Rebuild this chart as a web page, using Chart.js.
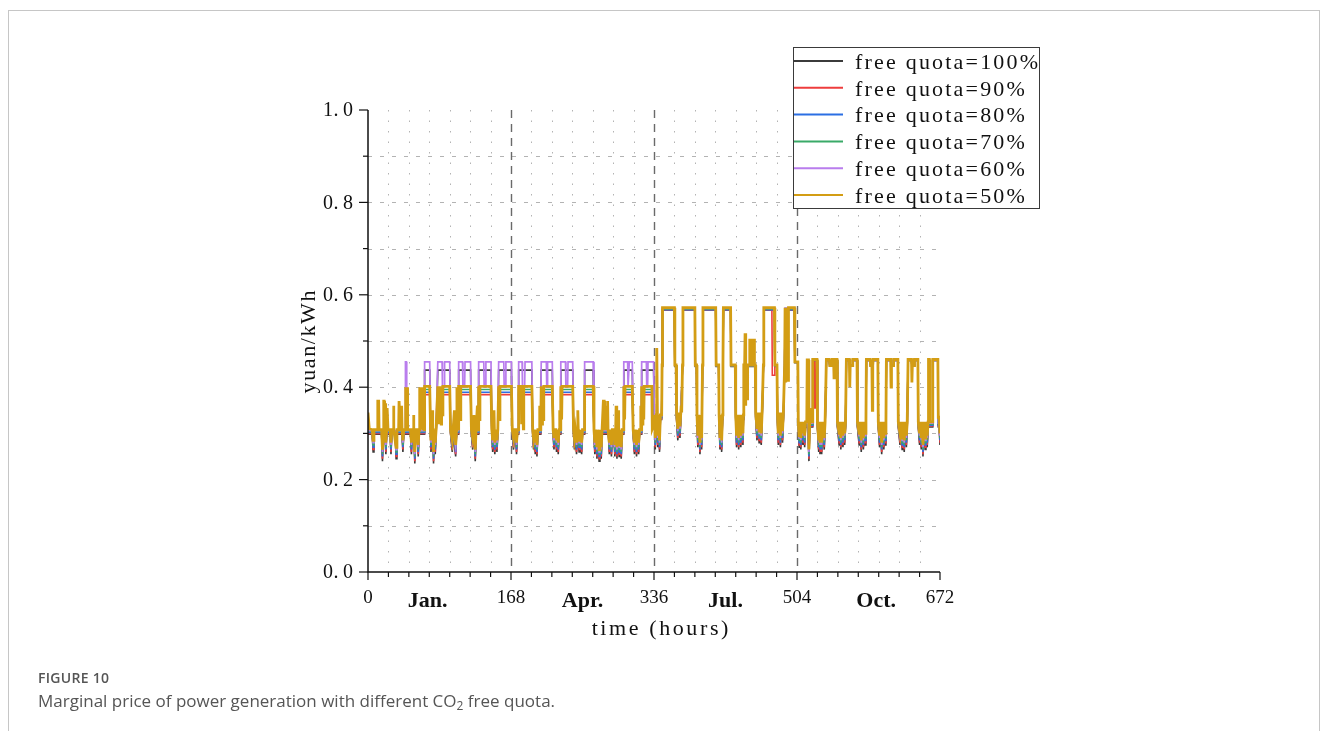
<!DOCTYPE html>
<html>
<head>
<meta charset="utf-8">
<title>Marginal price of power generation</title>
<script src="https://cdn.jsdelivr.net/npm/chart.js@4.4.0/dist/chart.umd.min.js"></script>
<style>
  html, body { margin: 0; padding: 0; background: #fff; }
  body { width: 1328px; height: 731px; position: relative; overflow: hidden; }
  #frame { position: absolute; left: 8px; top: 10px; width: 1310px; height: 760px; border: 1px solid #c6c6c6; }
  #chart { position: absolute; left: 0; top: 0; }
  .fig-label { position: absolute; left: 38px; top: 668px; font: 600 14px "Open Sans", sans-serif; color: #555; letter-spacing: .3px; }
  .fig-caption { position: absolute; left: 38px; top: 689px; font: 17px "Open Sans", sans-serif; color: #555; }
  .fig-caption sub { font-size: 12px; vertical-align: -3px; line-height: 0; }
</style>
</head>
<body>
<div id="frame"></div>
<canvas id="chart" width="1328" height="731"></canvas>
<div class="fig-label">FIGURE 10</div>
<div class="fig-caption">Marginal price of power generation with different CO<sub>2</sub> free quota.</div>
<script>
// axis ticks
const yMajor = [0, 0.2, 0.4, 0.6, 0.8, 1.0];
const yMinor = [0.1, 0.3, 0.5, 0.7, 0.9];
const xMajor = [0, 168, 336, 504, 672];
const xMinor = [24, 48, 72, 96, 120, 144, 192, 216, 240, 264, 288, 312, 360, 384, 408, 432, 456, 480, 528, 552, 576, 600, 624, 648];
const monthLabels = ['Jan.', 'Apr.', 'Jul.', 'Oct.'];
const monthAt = [70, 252, 420, 597];

// hours shared by the 100%..60% runs (one line per day)
const baseHours = [
  0,5,6,7,16,17,18,20,21,22,
  24,26,27,28,32,33,34,40,41,42,43.5,44,45,45.5,
  50,51,52,54,55,56,58,59,60,66,66.5,
  72.5,73.5,74,75,76.5,77,78,79,80,81,82,87,87.5,89.5,90,
  96,97,99,100,101,103,104,106,106.5,111,111.5,113.5,114,
  120.5,121.5,123,124,125,126,127,129.5,130,136,136.5,138,138.5,
  144.5,145.5,146.5,147.5,149,150,151.5,152.5,153.5,159.5,160,161.5,162,
  168.5,169.5,171,172,173.5,174.5,175.5,176.5,177,181,181.5,184,184.5,
  192.5,193.5,194.5,195.5,196.5,197.5,198.5,199.5,203,203.5,209.5,210,210.5,211,
  216.5,217.5,218.5,219.5,220.5,221.5,222.5,223.5,224.5,226,226.5,232,232.5,234.5,235,
  240.5,241.5,242.5,243.5,245,246,248,249,251,252,254,254.5,
  264.5,265.5,266.5,267.5,269,270,271.5,272.5,274,275,282.5,283.5,284.5,286,287,
  289,290,291,292.5,293.5,295,296,297.5,298.5,300,300.5,305,305.5,306.5,307,310.5,
  311.5,313,314,315.5,316.5,318,319,321,321.5,327,327.5,328.5,329,335.5,
  336.5,337.5,338.5,340.5,341.5,342.5,343.5,345,345.5,346,360,360.5,362,362.5,
  364,365,366.5,367.5,369.5,370,384,
  384.5,386,386.5,387.5,388.5,390,391,392,393,393.5,408.5,
  409,412,412.5,413.5,414.5,415.5,416.5,417,417.5,426,426.5,431.5,432,
  433,434,435.5,436.5,438,439,440.5,441,441.5,455,455.5,457,458,459.5,460.5,462,463,464.5,
  465,474.5,475,477.5,478,480.5,481,
  482,483,484.5,485.5,487,488,489.5,490,501,501.5,
  505,505.5,506.5,507.5,508.5,509.5,511,512,513,514,517,518,519,522,522.5,524,524.5,526,526.5,527.5,528,
  529.5,530.5,531,532,533,534,536,537,538,538.5,542,542.5,545,545.5,551,551.5,
  553.5,554.5,555.5,556.5,558,559,560,561,561.5,562,566,566.5,569,569.5,574.5,575,
  577,578,579.5,580.5,582,583,584,585,585.5,590,590.5,593,593.5,599,599.5,
  601,602,603.5,604.5,606,607,608,608.5,609,614,614.5,617,617.5,622.5,623,
  625,626,627.5,628.5,630,631,632.5,633.5,634,634.5,638.5,639,641.5,642,646,646.5,
  648,649,650,651,652,653,654.5,655.5,657,658,663,663.5,669.5,670,671,672
];

// free quota = 60%
const quota60 = [
  .306,.306,.28,.306,.306,.26,.306,.306,.275,.306,
  .306,.306,.275,.306,.306,.265,.306,.306,.28,.306,.306,.455,.455,.306,
  .306,.275,.306,.306,.255,.306,.306,.27,.306,.306,.455,
  .455,.306,.28,.306,.306,.255,.306,.275,.306,.306,.455,.455,.4,.4,.455,
  .455,.306,.28,.306,.306,.27,.306,.306,.455,.455,.4,.4,.455,
  .455,.306,.285,.306,.306,.26,.306,.306,.455,.455,.4,.4,.455,
  .455,.306,.28,.306,.275,.306,.28,.306,.455,.455,.4,.4,.455,
  .455,.306,.285,.306,.306,.275,.306,.306,.455,.455,.4,.4,.455,
  .455,.306,.285,.306,.275,.306,.27,.306,.306,.455,.455,.4,.4,.455,
  .455,.306,.285,.306,.306,.28,.306,.275,.306,.306,.455,.455,.4,.4,.455,
  .455,.306,.285,.306,.275,.306,.28,.306,.275,.306,.306,.455,
  .455,.306,.275,.306,.265,.306,.26,.306,.265,.306,.306,.275,.306,.27,.306,
  .306,.27,.306,.265,.306,.27,.306,.265,.306,.306,.455,.455,.4,.4,.455,.455,
  .306,.275,.306,.27,.306,.275,.306,.306,.455,.455,.4,.4,.455,.455,
  .338,.285,.338,.29,.338,.28,.338,.338,.448,.571,.571,.448,.448,.338,
  .305,.338,.31,.338,.448,.571,.571,
  .448,.448,.338,.29,.338,.275,.338,.285,.448,.571,.571,
  .448,.448,.338,.285,.338,.28,.338,.448,.571,.571,.448,.448,.338,
  .29,.338,.285,.338,.29,.338,.295,.338,.448,.448,.338,.305,.338,.3,.338,.295,.338,.448,
  .571,.571,.571,.571,.448,.448,.338,
  .295,.338,.29,.338,.3,.338,.448,.571,.571,.455,
  .455,.322,.29,.322,.285,.322,.295,.322,.29,.322,.322,.26,.322,.322,.459,.459,.459,.459,.459,.459,.322,
  .28,.322,.275,.322,.275,.322,.285,.322,.322,.459,.459,.447,.447,.459,.459,.322,
  .295,.322,.285,.322,.29,.322,.295,.322,.322,.459,.459,.447,.447,.459,.459,.322,
  .295,.322,.28,.322,.285,.322,.295,.322,.459,.459,.447,.447,.459,.459,.322,
  .29,.322,.275,.322,.285,.322,.295,.322,.459,.459,.447,.447,.459,.459,.322,
  .295,.322,.285,.322,.28,.322,.29,.322,.322,.459,.459,.447,.447,.459,.459,.322,
  .295,.322,.285,.322,.27,.322,.285,.322,.29,.322,.322,.459,.459,.322,.322,.295
];

// free quota = 70%
const quota70 = [
  .304,.304,.275,.304,.304,.255,.304,.304,.27,.304,
  .304,.304,.27,.304,.304,.26,.304,.304,.275,.304,.304,.304,.304,.304,
  .304,.27,.304,.304,.25,.304,.304,.265,.304,.304,.395,
  .395,.304,.275,.304,.304,.25,.304,.27,.304,.304,.395,.395,.395,.395,.395,
  .395,.304,.275,.304,.304,.265,.304,.304,.395,.395,.395,.395,.395,
  .395,.304,.28,.304,.304,.255,.304,.304,.395,.395,.395,.395,.395,
  .395,.304,.275,.304,.27,.304,.275,.304,.395,.395,.395,.395,.395,
  .395,.304,.28,.304,.304,.27,.304,.304,.395,.395,.395,.395,.395,
  .395,.304,.28,.304,.27,.304,.265,.304,.304,.395,.395,.395,.395,.395,
  .395,.304,.28,.304,.304,.275,.304,.27,.304,.304,.395,.395,.395,.395,.395,
  .395,.304,.28,.304,.27,.304,.275,.304,.27,.304,.304,.395,
  .395,.304,.27,.304,.26,.304,.255,.304,.26,.304,.304,.27,.304,.265,.304,
  .304,.265,.304,.26,.304,.265,.304,.26,.304,.304,.395,.395,.395,.395,.395,.395,
  .304,.27,.304,.265,.304,.27,.304,.304,.395,.395,.395,.395,.395,.395,
  .336,.28,.336,.285,.336,.275,.336,.336,.447,.57,.57,.447,.447,.336,
  .3,.336,.305,.336,.447,.57,.57,
  .447,.447,.336,.285,.336,.27,.336,.28,.447,.57,.57,
  .447,.447,.336,.28,.336,.275,.336,.447,.57,.57,.447,.447,.336,
  .285,.336,.28,.336,.285,.336,.29,.336,.447,.447,.336,.3,.336,.295,.336,.29,.336,.447,
  .57,.57,.57,.57,.447,.447,.336,
  .29,.336,.285,.336,.295,.336,.447,.57,.57,.455,
  .455,.32,.285,.32,.28,.32,.29,.32,.285,.32,.32,.255,.32,.32,.459,.459,.459,.459,.459,.459,.32,
  .275,.32,.27,.32,.27,.32,.28,.32,.32,.459,.459,.447,.447,.459,.459,.32,
  .29,.32,.28,.32,.285,.32,.29,.32,.32,.459,.459,.447,.447,.459,.459,.32,
  .29,.32,.275,.32,.28,.32,.29,.32,.459,.459,.447,.447,.459,.459,.32,
  .285,.32,.27,.32,.28,.32,.29,.32,.459,.459,.447,.447,.459,.459,.32,
  .29,.32,.28,.32,.275,.32,.285,.32,.32,.459,.459,.447,.447,.459,.459,.32,
  .29,.32,.28,.32,.265,.32,.28,.32,.285,.32,.32,.459,.459,.32,.32,.29
];

// free quota = 80%
const quota80 = [
  .302,.302,.27,.302,.302,.25,.302,.302,.265,.302,
  .302,.302,.265,.302,.302,.255,.302,.302,.27,.302,.302,.302,.302,.302,
  .302,.265,.302,.302,.245,.302,.302,.26,.302,.302,.389,
  .389,.302,.27,.302,.302,.245,.302,.265,.302,.302,.389,.389,.389,.389,.389,
  .389,.302,.27,.302,.302,.26,.302,.302,.389,.389,.389,.389,.389,
  .389,.302,.275,.302,.302,.25,.302,.302,.389,.389,.389,.389,.389,
  .389,.302,.27,.302,.265,.302,.27,.302,.389,.389,.389,.389,.389,
  .389,.302,.275,.302,.302,.265,.302,.302,.389,.389,.389,.389,.389,
  .389,.302,.275,.302,.265,.302,.26,.302,.302,.389,.389,.389,.389,.389,
  .389,.302,.275,.302,.302,.27,.302,.265,.302,.302,.389,.389,.389,.389,.389,
  .389,.302,.275,.302,.265,.302,.27,.302,.265,.302,.302,.389,
  .389,.302,.265,.302,.255,.302,.25,.302,.255,.302,.302,.265,.302,.26,.302,
  .302,.26,.302,.255,.302,.26,.302,.255,.302,.302,.389,.389,.389,.389,.389,.389,
  .302,.265,.302,.26,.302,.265,.302,.302,.389,.389,.389,.389,.389,.389,
  .334,.275,.334,.28,.334,.27,.334,.334,.446,.568,.568,.446,.446,.334,
  .295,.334,.3,.334,.446,.568,.568,
  .446,.446,.334,.28,.334,.265,.334,.275,.446,.568,.568,
  .446,.446,.334,.275,.334,.27,.334,.446,.568,.568,.446,.446,.334,
  .28,.334,.275,.334,.28,.334,.285,.334,.446,.446,.334,.295,.334,.29,.334,.285,.334,.446,
  .568,.568,.568,.568,.446,.446,.334,
  .285,.334,.28,.334,.29,.334,.446,.568,.568,.454,
  .454,.318,.28,.318,.275,.318,.285,.318,.28,.318,.318,.25,.318,.318,.458,.458,.458,.458,.458,.458,.318,
  .27,.318,.265,.318,.265,.318,.275,.318,.318,.458,.458,.446,.446,.458,.458,.318,
  .285,.318,.275,.318,.28,.318,.285,.318,.318,.458,.458,.446,.446,.458,.458,.318,
  .285,.318,.27,.318,.275,.318,.285,.318,.458,.458,.446,.446,.458,.458,.318,
  .28,.318,.265,.318,.275,.318,.285,.318,.458,.458,.446,.446,.458,.458,.318,
  .285,.318,.275,.318,.27,.318,.28,.318,.318,.458,.458,.446,.446,.458,.458,.318,
  .285,.318,.275,.318,.26,.318,.275,.318,.28,.318,.318,.458,.458,.318,.318,.285
];

// free quota = 90%
const quota90 = [
  .3,.3,.265,.3,.3,.245,.3,.3,.26,.3,
  .3,.3,.26,.3,.3,.25,.3,.3,.265,.3,.3,.3,.3,.3,
  .3,.26,.3,.3,.24,.3,.3,.255,.3,.3,.384,
  .384,.3,.265,.3,.3,.24,.3,.26,.3,.3,.384,.384,.384,.384,.384,
  .384,.3,.265,.3,.3,.255,.3,.3,.384,.384,.384,.384,.384,
  .384,.3,.27,.3,.3,.245,.3,.3,.384,.384,.384,.384,.384,
  .384,.3,.265,.3,.26,.3,.265,.3,.384,.384,.384,.384,.384,
  .384,.3,.27,.3,.3,.26,.3,.3,.384,.384,.384,.384,.384,
  .384,.3,.27,.3,.26,.3,.255,.3,.3,.384,.384,.384,.384,.384,
  .384,.3,.27,.3,.3,.265,.3,.26,.3,.3,.384,.384,.384,.384,.384,
  .384,.3,.27,.3,.26,.3,.265,.3,.26,.3,.3,.384,
  .384,.3,.26,.3,.25,.3,.245,.3,.25,.3,.3,.26,.3,.255,.3,
  .3,.255,.3,.25,.3,.255,.3,.25,.3,.3,.384,.384,.384,.384,.384,.384,
  .3,.26,.3,.255,.3,.26,.3,.3,.384,.384,.384,.384,.384,.384,
  .332,.27,.332,.275,.332,.265,.332,.332,.446,.568,.568,.446,.446,.332,
  .29,.332,.295,.332,.446,.568,.568,
  .446,.446,.332,.275,.332,.26,.332,.27,.446,.568,.568,
  .446,.446,.332,.27,.332,.265,.332,.446,.568,.568,.446,.446,.332,
  .275,.332,.27,.332,.275,.332,.28,.332,.446,.446,.332,.29,.332,.285,.332,.28,.332,.446,
  .568,.568,.426,.426,.446,.446,.332,
  .28,.332,.275,.332,.285,.332,.446,.568,.568,.454,
  .454,.316,.275,.316,.27,.316,.28,.316,.275,.316,.316,.245,.316,.316,.458,.458,.355,.355,.458,.458,.316,
  .265,.316,.26,.316,.26,.316,.27,.316,.316,.458,.458,.446,.446,.458,.458,.316,
  .28,.316,.27,.316,.275,.316,.28,.316,.316,.458,.458,.446,.446,.458,.458,.316,
  .28,.316,.265,.316,.27,.316,.28,.316,.458,.458,.446,.446,.458,.458,.316,
  .275,.316,.26,.316,.27,.316,.28,.316,.458,.458,.446,.446,.458,.458,.316,
  .28,.316,.27,.316,.265,.316,.275,.316,.316,.458,.458,.446,.446,.458,.458,.316,
  .28,.316,.27,.316,.255,.316,.27,.316,.275,.316,.316,.458,.458,.316,.316,.28
];

// free quota = 100%
const quota100 = [
  .298,.298,.26,.298,.298,.24,.298,.298,.255,.298,
  .298,.298,.255,.298,.298,.245,.298,.298,.26,.298,.298,.298,.298,.298,
  .298,.255,.298,.298,.235,.298,.298,.25,.298,.298,.437,
  .437,.298,.26,.298,.298,.235,.298,.255,.298,.298,.437,.437,.437,.437,.437,
  .437,.298,.26,.298,.298,.25,.298,.298,.437,.437,.437,.437,.437,
  .437,.298,.265,.298,.298,.24,.298,.298,.437,.437,.437,.437,.437,
  .437,.298,.26,.298,.255,.298,.26,.298,.437,.437,.437,.437,.437,
  .437,.298,.265,.298,.298,.255,.298,.298,.437,.437,.437,.437,.437,
  .437,.298,.265,.298,.255,.298,.25,.298,.298,.437,.437,.437,.437,.437,
  .437,.298,.265,.298,.298,.26,.298,.255,.298,.298,.437,.437,.437,.437,.437,
  .437,.298,.265,.298,.255,.298,.26,.298,.255,.298,.298,.437,
  .437,.298,.255,.298,.245,.298,.24,.298,.245,.298,.298,.255,.298,.25,.298,
  .298,.25,.298,.245,.298,.25,.298,.245,.298,.298,.437,.437,.437,.437,.437,.437,
  .298,.255,.298,.25,.298,.255,.298,.298,.437,.437,.437,.437,.437,.437,
  .33,.265,.33,.27,.33,.26,.33,.33,.445,.567,.567,.445,.445,.33,
  .285,.33,.29,.33,.445,.567,.567,
  .445,.445,.33,.27,.33,.255,.33,.265,.445,.567,.567,
  .445,.445,.33,.265,.33,.26,.33,.445,.567,.567,.445,.445,.33,
  .27,.33,.265,.33,.27,.33,.275,.33,.445,.445,.33,.285,.33,.28,.33,.275,.33,.445,
  .567,.567,.567,.567,.445,.445,.33,
  .275,.33,.27,.33,.28,.33,.445,.567,.567,.453,
  .453,.314,.27,.314,.265,.314,.275,.314,.27,.314,.314,.24,.314,.314,.458,.458,.458,.458,.458,.458,.314,
  .26,.314,.255,.314,.255,.314,.265,.314,.314,.458,.458,.446,.446,.458,.458,.314,
  .275,.314,.265,.314,.27,.314,.275,.314,.314,.458,.458,.446,.446,.458,.458,.314,
  .275,.314,.26,.314,.265,.314,.275,.314,.458,.458,.446,.446,.458,.458,.314,
  .27,.314,.255,.314,.265,.314,.275,.314,.458,.458,.446,.446,.458,.458,.314,
  .275,.314,.265,.314,.26,.314,.27,.314,.314,.458,.458,.446,.446,.458,.458,.314,
  .275,.314,.265,.314,.25,.314,.265,.314,.27,.314,.314,.458,.458,.314,.314,.275
];

// free quota = 50%, [hour, yuan/kWh]
const quota50 = [
  [0,.345],[1,.345],[1.5,.31],[5,.308],[6,.285],[7,.308],[11,.308],[11.5,.37],[12.5,.37],[13,.308],[16,.308],[17,.265],[18,.308],[18.5,.37],[19,.37],[19.5,.32],[20,.365],[20.5,.308],[21,.28],[22,.308],[22.5,.355],[23,.355],[23.5,.308],
  [26,.308],[27,.28],[28,.308],[29.5,.308],[30,.36],[30.5,.308],[33,.27],[34,.308],[36,.308],[36.5,.37],[37.5,.37],[38,.308],[39,.308],[39.5,.36],[40,.308],[41,.285],[42,.308],[43.5,.308],[44,.4],[44.5,.33],[45,.4],[45.5,.32],[46,.4],[46.5,.308],
  [50,.308],[51,.28],[52,.308],[53,.308],[53.5,.34],[54,.308],[55,.26],[56,.308],[58,.308],[59,.275],[60,.308],[60.5,.4],[61,.33],[61.5,.4],[62,.32],[62.5,.38],[63,.33],[63.5,.4],[64,.31],[66,.308],[66.5,.402],
  [72.5,.402],[73.5,.308],[74,.285],[75,.308],[75.5,.35],[76,.308],[76.5,.308],[77,.26],[78,.308],[79,.28],[80,.308],[81,.308],[82,.402],[83,.32],[83.5,.402],[84.5,.33],[85,.402],[86,.32],[86.5,.402],[87.5,.34],[88,.402],[96,.402],
  [97,.308],[99,.285],[100,.308],[101,.308],[101.5,.35],[102,.308],[103,.275],[104,.308],[104.5,.4],[105,.32],[105.5,.4],[106,.31],[106.5,.402],[108,.402],[108.5,.33],[109,.402],[120.5,.402],
  [121.5,.308],[123,.29],[124,.308],[124.5,.34],[125,.308],[126,.265],[127,.308],[128,.308],[128.5,.36],[129,.308],[129.5,.308],[130,.402],[131,.33],[131.5,.402],[144.5,.402],
  [145.5,.308],[146.5,.285],[147.5,.308],[148,.35],[148.5,.308],[149,.28],[150,.308],[151.5,.285],[152.5,.308],[153.5,.402],[154.5,.33],[155,.402],[168.5,.402],
  [169.5,.308],[171,.29],[172,.308],[173.5,.308],[174.5,.28],[175.5,.308],[176.5,.308],[177,.402],[180,.402],[180.5,.32],[181,.402],[181.5,.33],[182,.402],[182.5,.31],[183,.402],[192.5,.402],
  [193.5,.308],[194.5,.29],[195.5,.308],[196.5,.28],[197.5,.308],[198.5,.275],[199.5,.308],[201,.308],[201.5,.36],[202,.308],[203,.308],[203.5,.402],[204.5,.32],[205,.402],[206,.33],[206.5,.402],[216.5,.402],
  [217.5,.308],[218.5,.29],[219.5,.308],[220.5,.308],[221.5,.285],[222.5,.308],[223.5,.28],[224.5,.308],[225,.35],[225.5,.308],[226,.308],[226.5,.402],[227.5,.33],[228,.402],[240.5,.402],
  [241.5,.308],[242.5,.29],[243.5,.308],[245,.28],[246,.308],[246.5,.35],[247,.308],[248,.285],[249,.308],[251,.28],[252,.308],[254,.308],[254.5,.402],[264.5,.402],
  [265.5,.308],[266.5,.28],[267.5,.308],[269,.27],[270,.308],[271.5,.265],[272.5,.308],[274,.27],[275,.308],[276,.308],[276.5,.37],[277.5,.37],[278,.31],[279,.31],[279.5,.36],[280,.31],[281,.31],[281.5,.37],[282,.308],[283.5,.28],[284.5,.308],[286,.275],[287,.308],
  [289,.308],[290,.275],[291,.308],[291.5,.36],[292,.308],[292.5,.27],[293.5,.308],[294,.35],[294.5,.308],[295,.275],[296,.308],[297.5,.27],[298.5,.308],[300,.308],[300.5,.402],[301.5,.33],[302,.402],[310.5,.402],[311.5,.308],
  [313,.28],[314,.308],[315.5,.275],[316.5,.308],[318,.28],[319,.308],[320,.308],[320.5,.36],[321,.308],[321.5,.402],[322.5,.32],[323,.402],[324,.33],[324.5,.402],[333.5,.402],[334,.31],[336,.32],
  [336.5,.34],[337.5,.29],[338.5,.34],[339,.485],[339.5,.485],[340,.34],[340.5,.295],[341.5,.34],[342.5,.285],[343.5,.34],[345,.34],[345.5,.448],[346,.572],[360,.572],[360.5,.448],[362,.448],[362.5,.345],
  [364,.31],[365,.345],[366.5,.315],[367.5,.345],[368,.36],[368.5,.345],[369.5,.448],[370,.572],[384,.572],
  [384.5,.448],[386,.448],[386.5,.34],[387.5,.295],[388.5,.34],[390,.28],[391,.34],[392,.29],[393,.448],[393.5,.572],[408.5,.572],
  [409,.448],[412,.448],[412.5,.34],[413.5,.29],[414.5,.34],[415.5,.285],[416.5,.34],[417,.448],[417.5,.572],[426,.572],[426.5,.448],[431.5,.448],[432,.34],
  [433,.295],[434,.34],[435.5,.29],[436.5,.34],[438,.295],[439,.34],[440.5,.3],[441,.34],[441.5,.448],[442.5,.448],[443,.517],[443.5,.36],[444,.448],[445,.448],[445.5,.375],[446,.448],[448,.448],[448.5,.505],[449,.448],[451,.448],[451.5,.505],[452,.448],[453,.448],[453.5,.505],[454,.448],[455,.448],[455.5,.345],[457,.31],[458,.345],[459.5,.305],[460.5,.345],[462,.3],[463,.345],[464.5,.448],
  [465,.572],[477.5,.572],[478,.448],[480.5,.448],[481,.345],
  [482,.3],[483,.345],[484.5,.295],[485.5,.345],[487,.305],[488,.345],[489.5,.448],[490,.572],[490.5,.41],[491,.572],[491.5,.42],[492,.572],[492.5,.43],[493,.572],[493.5,.415],[494,.572],[501,.572],[501.5,.455],
  [505,.455],[505.5,.325],[506.5,.295],[507.5,.325],[508.5,.29],[509.5,.325],[511,.3],[512,.325],[513,.295],[514,.325],[515.5,.325],[516,.459],[517.5,.459],[518,.265],[519,.325],[520,.325],[520.5,.355],[521,.325],[522,.325],[522.5,.46],[527.5,.46],[528,.325],
  [529.5,.285],[530.5,.325],[531,.28],[532,.325],[533,.28],[534,.325],[536,.29],[537,.325],[538,.325],[538.5,.46],[542,.46],[542.5,.447],[545,.447],[545.5,.46],[547,.46],[547.5,.42],[548,.46],[551,.46],[551.5,.325],
  [553.5,.3],[554.5,.325],[555.5,.29],[556.5,.325],[558,.295],[559,.325],[560,.3],[561,.325],[561.5,.325],[562,.46],[565.5,.46],[566,.4],[566.5,.447],[569,.447],[569.5,.46],[574.5,.46],[575,.325],
  [577,.3],[578,.325],[579.5,.285],[580.5,.325],[582,.29],[583,.325],[584,.3],[585,.325],[585.5,.46],[590,.46],[590.5,.447],[592,.447],[592.5,.35],[593,.447],[593.5,.46],[599,.46],[599.5,.325],
  [601,.295],[602,.325],[603.5,.28],[604.5,.325],[606,.29],[607,.325],[608,.3],[608.5,.325],[609,.46],[614,.46],[614.5,.4],[615,.447],[617,.447],[617.5,.46],[622.5,.46],[623,.325],
  [625,.3],[626,.325],[627.5,.29],[628.5,.325],[630,.285],[631,.325],[632.5,.295],[633.5,.325],[634,.325],[634.5,.46],[638.5,.46],[639,.41],[639.5,.447],[641.5,.447],[642,.46],[646,.46],[646.5,.325],
  [648,.3],[649,.325],[650,.29],[651,.325],[652,.275],[653,.325],[654.5,.29],[655.5,.325],[657,.295],[658,.325],[658.5,.46],[659.5,.46],[660,.325],[663,.325],[663.5,.46],[669.5,.46],[670,.335],[671,.335],[672,.3]
];

[quota60, quota70, quota80, quota90, quota100].forEach((arr, k) => {
  if (arr.length !== baseHours.length) {
    throw new Error('series ' + k + ' has ' + arr.length + ' values, hours has ' + baseHours.length);
  }
});

const series = [
  { label: 'free quota=100%', color: '#3b3b3b', width: 1.6, points: baseHours.map((h, i) => ({ x: h, y: quota100[i] })) },
  { label: 'free quota=90%',  color: '#ee3d3d', width: 1.6, points: baseHours.map((h, i) => ({ x: h, y: quota90[i] })) },
  { label: 'free quota=80%',  color: '#2b6fe3', width: 1.6, points: baseHours.map((h, i) => ({ x: h, y: quota80[i] })) },
  { label: 'free quota=70%',  color: '#3aaa68', width: 1.6, points: baseHours.map((h, i) => ({ x: h, y: quota70[i] })) },
  { label: 'free quota=60%',  color: '#b97ded', width: 1.7, points: baseHours.map((h, i) => ({ x: h, y: quota60[i] })) },
  { label: 'free quota=50%',  color: '#d39d14', width: 2.8, points: quota50.map(p => ({ x: p[0], y: p[1] })) }
];

const SERIF = '"Liberation Serif", "Times New Roman", serif';

// tick numbers sit in fixed half-width cells
function fillCells(ctx, text, x, y, cell) {
  const start = x - cell * text.length;
  ctx.save();
  ctx.textAlign = 'center';
  [...text].forEach((ch, i) => {
    const cx = ch === '.' ? start + cell * (i + 0.3) : start + cell * (i + 0.5);
    ctx.fillText(ch, cx, y);
  });
  ctx.restore();
}

// wide-set text
function fillSpaced(ctx, text, x, y, spacing, align) {
  ctx.save();
  ctx.letterSpacing = spacing + 'px';
  const w = ctx.measureText(text).width - spacing;
  ctx.textAlign = 'left';
  const start = align === 'center' ? x - w / 2 : x;
  ctx.fillText(text, start, y);
  ctx.restore();
}

// dotted / dashed background grid
const gridPlugin = {
  id: 'paperGrid',
  beforeDatasetsDraw(chart) {
    const { ctx, chartArea: a, scales: { x, y } } = chart;
    ctx.save();
    ctx.lineWidth = 1;
    ctx.strokeStyle = '#b3b3b3';
    ctx.setLineDash([4, 8]);
    [...yMajor, ...yMinor].filter(v => v > 0 && v < 1).forEach(v => {
      const py = Math.round(y.getPixelForValue(v)) + 0.5;
      ctx.beginPath(); ctx.moveTo(a.left, py); ctx.lineTo(a.right, py); ctx.stroke();
    });
    ctx.setLineDash([1.5, 9]);
    xMinor.forEach(h => {
      const px = Math.round(x.getPixelForValue(h)) + 0.5;
      ctx.beginPath(); ctx.moveTo(px, a.top); ctx.lineTo(px, a.bottom); ctx.stroke();
    });
    ctx.strokeStyle = '#6a6a6a';
    ctx.lineWidth = 1.4;
    ctx.setLineDash([8, 6]);
    xMajor.slice(1, -1).forEach(h => {
      const px = Math.round(x.getPixelForValue(h)) + 0.5;
      ctx.beginPath(); ctx.moveTo(px, a.top); ctx.lineTo(px, a.bottom); ctx.stroke();
    });
    ctx.restore();
  }
};

// axis lines, ticks and labels
const axisPlugin = {
  id: 'paperAxes',
  afterDatasetsDraw(chart) {
    const { ctx, chartArea: a, scales: { x, y } } = chart;
    ctx.save();
    ctx.strokeStyle = '#111';
    ctx.fillStyle = '#111';
    ctx.lineWidth = 1.5;
    ctx.setLineDash([]);
    ctx.beginPath();
    ctx.moveTo(a.left, a.top); ctx.lineTo(a.left, a.bottom); ctx.lineTo(a.right, a.bottom);
    ctx.stroke();

    ctx.lineWidth = 1.2;
    yMajor.forEach(v => {
      const py = y.getPixelForValue(v);
      ctx.beginPath(); ctx.moveTo(a.left - 9, py); ctx.lineTo(a.left, py); ctx.stroke();
    });
    yMinor.forEach(v => {
      const py = y.getPixelForValue(v);
      ctx.beginPath(); ctx.moveTo(a.left - 5, py); ctx.lineTo(a.left, py); ctx.stroke();
    });
    xMajor.forEach(h => {
      const px = x.getPixelForValue(h);
      ctx.beginPath(); ctx.moveTo(px, a.bottom); ctx.lineTo(px, a.bottom + 8); ctx.stroke();
    });
    xMinor.forEach(h => {
      const px = x.getPixelForValue(h);
      ctx.beginPath(); ctx.moveTo(px, a.bottom); ctx.lineTo(px, a.bottom + 5); ctx.stroke();
    });

    ctx.textBaseline = 'middle';
    ctx.font = '20px ' + SERIF;
    yMajor.forEach(v => fillCells(ctx, v.toFixed(1), a.left - 15, y.getPixelForValue(v) + 1, 10));

    ctx.textAlign = 'center';
    ctx.font = '19px ' + SERIF;
    xMajor.forEach(h => ctx.fillText(String(h), x.getPixelForValue(h), a.bottom + 26));
    ctx.font = 'bold 22px ' + SERIF;
    monthLabels.forEach((m, i) => ctx.fillText(m, x.getPixelForValue(monthAt[i]), a.bottom + 29));

    ctx.font = '22px ' + SERIF;
    fillSpaced(ctx, 'time (hours)', (a.left + a.right) / 2 + 6, a.bottom + 57, 2.6, 'center');

    ctx.translate(309, (a.top + a.bottom) / 2 + 1);
    ctx.rotate(-Math.PI / 2);
    ctx.font = '22px ' + SERIF;
    fillSpaced(ctx, 'yuan/kWh', 0, 0, 1.6, 'center');
    ctx.restore();
  }
};

// boxed legend in the upper right corner
const legendPlugin = {
  id: 'quotaLegend',
  afterDraw(chart) {
    const ctx = chart.ctx;
    ctx.save();
    ctx.fillStyle = '#fff';
    ctx.fillRect(793, 47, 247, 161);
    ctx.strokeStyle = '#3a3a3a';
    ctx.lineWidth = 1;
    ctx.strokeRect(793.5, 47.5, 246, 161);
    ctx.font = '22px ' + SERIF;
    ctx.textBaseline = 'middle';
    series.forEach((s, i) => {
      const yy = 61 + i * 26.8;
      ctx.strokeStyle = s.color;
      ctx.lineWidth = 2;
      ctx.beginPath(); ctx.moveTo(794, yy); ctx.lineTo(843, yy); ctx.stroke();
      ctx.fillStyle = '#111';
      fillSpaced(ctx, s.label, 855, yy + 2, 2.2, 'left');
    });
    ctx.restore();
  }
};

const chart = new Chart(document.getElementById('chart').getContext('2d'), {
  type: 'line',
  data: {
    datasets: series.map((s, i) => ({
      label: s.label,
      data: s.points,
      borderColor: s.color,
      backgroundColor: s.color,
      borderWidth: s.width,
      pointRadius: 0,
      tension: 0,
      fill: false,
      order: series.length - 1 - i
    }))
  },
  options: {
    responsive: false,
    animation: false,
    devicePixelRatio: 1,
    layout: { autoPadding: false, padding: { left: 0, right: 388, top: 110, bottom: 0 } },
    scales: {
      x: {
        type: 'linear', min: 0, max: 672,
        grid: { display: false }, ticks: { display: false }, border: { display: false },
        afterFit: s => { s.height = 159; }
      },
      y: {
        type: 'linear', min: 0, max: 1,
        grid: { display: false }, ticks: { display: false }, border: { display: false },
        afterFit: s => { s.width = 368; }
      }
    },
    plugins: { legend: { display: false }, tooltip: { enabled: false } }
  },
  plugins: [gridPlugin, axisPlugin, legendPlugin]
});
</script>
</body>
</html>
